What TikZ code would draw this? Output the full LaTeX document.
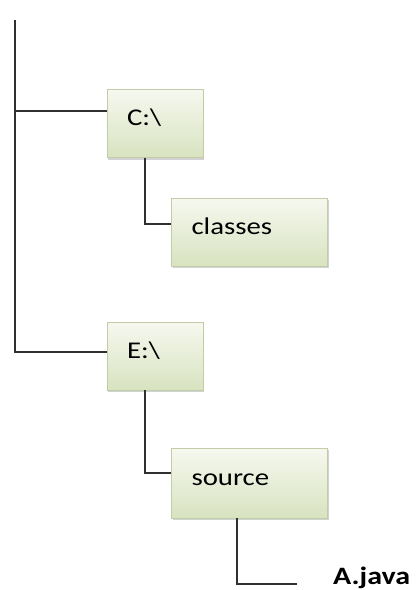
\documentclass[tikz,border=0pt]{standalone}
\usepackage{fontspec}
\usepackage{graphicx}
\setmainfont{Carlito}
\usetikzlibrary{shadows,calc}
\definecolor{boxtop}{HTML}{F6F8EF}
\definecolor{boxbot}{HTML}{D8E3C0}
\definecolor{boxedge}{HTML}{C2CCA6}
\definecolor{linec}{HTML}{303030}
\newcommand\sx[1]{\scalebox{1.2}[1]{#1}}
\begin{document}
\begin{tikzpicture}[x=1pt,y=-1pt,
  folder/.style={draw=boxedge, line width=0.8pt, top color=boxtop, bottom color=boxbot,
    minimum height=68pt, inner xsep=20pt, inner ysep=0pt, align=left,
    text height=17pt, text depth=13pt, font=\fontsize{24}{27}\selectfont,
    drop shadow={shadow xshift=1pt, shadow yshift=-2pt, fill=black!35, opacity=0.5}},
  link/.style={draw=linec, line width=2pt}]
\useasboundingbox (0,0) rectangle (420,590);
\fill[white] (0,0) rectangle (420,590);
\node[folder, text width=56pt] (C) at (155,123.5) {\sx{C:\textbackslash}};
\node[folder, text width=116pt] (K) at (249.5,232) {\sx{classes}};
\node[folder, text width=56pt] (E) at (155,356) {\sx{E:\textbackslash}};
\node[folder, text width=116pt, minimum height=70pt] (S) at (249.5,483) {\sx{source}};
\node[anchor=base west, inner sep=0pt, font=\bfseries\fontsize{25}{30}\selectfont] (A) at (333,584) {\scalebox{1.2}[1]{A.java}};
\coordinate (top) at (15,20);
\coordinate (cj) at ($(C.north west)+(0,22)$);
\coordinate (ej) at ($(E.north west)+(0,30)$);
\coordinate (kj) at ($(K.north west)+(0,26)$);
\coordinate (sj) at ($(S.north west)+(0,25)$);
\coordinate (jend) at ($(A.base west)+(-36,0)$);
\draw[link] (top) -- (top |- ej) -- (ej);
\draw[link] (top |- cj) -- (cj);
\draw[link] ($(C.south west)+(38,0)$) |- (kj);
\draw[link] ($(E.south west)+(38,0)$) |- (sj);
\draw[link] ($(S.south west)+(66,0)$) |- (jend);
\end{tikzpicture}
\end{document}
